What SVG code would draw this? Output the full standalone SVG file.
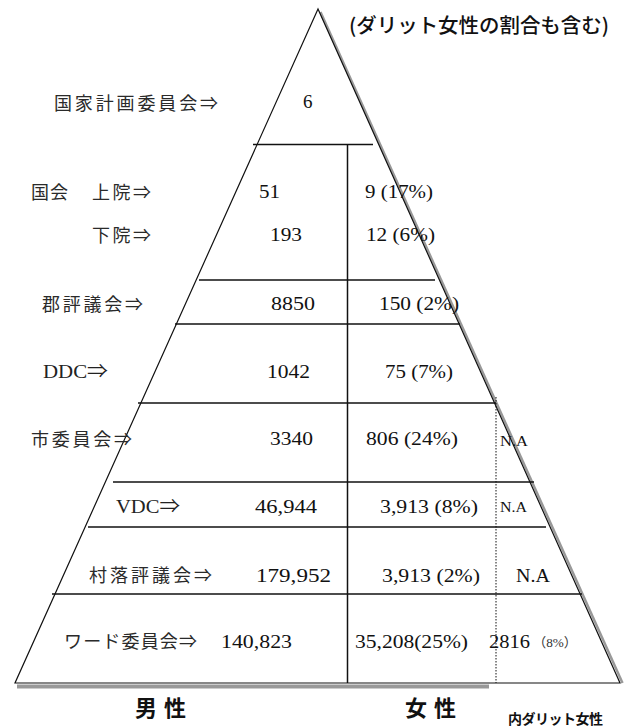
<svg xmlns="http://www.w3.org/2000/svg" width="624" height="728" viewBox="0 0 624 728">
<style>
.lbl{font-family:"Noto Sans CJK JP","Noto Sans CJK SC",sans-serif;font-size:18px;fill:#2a2a2a}
.lat{font-family:"Liberation Serif","Noto Sans CJK JP",serif;font-size:19px;fill:#222}
.num{font-family:"Liberation Serif",serif;font-size:19px;fill:#111}
.sm{font-family:"Liberation Serif",serif;font-size:14px;fill:#111}
.big{font-family:"Noto Sans CJK JP",sans-serif;font-size:22px;font-weight:bold;fill:#111}
.div{stroke:#111;stroke-width:1.5;fill:none}
</style>
<rect width="624" height="728" fill="#fff"/>
<g id="pyramid">
  <line x1="320.5" y1="12" x2="622.5" y2="683" stroke="#999" stroke-width="2.5"/>
  <rect x="17" y="684.5" width="472" height="4" fill="#999"/>
  <polygon points="318,9 15,683 620,683" fill="none" stroke="#111" stroke-width="1.2"/>
</g>
<g id="connectors">
  <line class="div" x1="253" y1="144.5" x2="373" y2="144.5"/>
  <line class="div" x1="199" y1="280" x2="435" y2="280" stroke-width="2"/>
  <line class="div" x1="175" y1="324" x2="460" y2="324"/>
  <line class="div" x1="138" y1="403" x2="496" y2="403"/>
  <line class="div" x1="113" y1="482" x2="534" y2="482" stroke-width="2"/>
  <line class="div" x1="88" y1="527" x2="546" y2="527"/>
  <line class="div" x1="52" y1="594" x2="582" y2="594"/>
  <line class="div" x1="347.5" y1="144.5" x2="347.5" y2="683"/>
  <line x1="496" y1="397" x2="496" y2="683" stroke="#111" stroke-width="1" stroke-dasharray="1.5 1.5"/>
</g>
<g id="title">
  <text x="349" y="33" font-family="Noto Sans CJK JP,sans-serif" font-size="20" font-weight="500" fill="#111" textLength="260" lengthAdjust="spacingAndGlyphs">(ダリット女性の割合も含む)</text>
</g>
<g id="row-npc">
  <text class="lbl" x="54" y="109.5" textLength="164" lengthAdjust="spacing">国家計画委員会⇒</text>
  <text class="num" x="303" y="108" font-size="17">6</text>
</g>
<g id="row-upper">
  <text class="lbl" x="31" y="198.5" textLength="37" lengthAdjust="spacing">国会</text>
  <text class="lbl" x="92" y="198.5" textLength="59" lengthAdjust="spacing">上院⇒</text>
  <text class="num" x="259" y="198" textLength="21" lengthAdjust="spacingAndGlyphs">51</text>
  <text class="num" x="365" y="198" textLength="68" lengthAdjust="spacingAndGlyphs">9 (17%)</text>
</g>
<g id="row-lower">
  <text class="lbl" x="92" y="241.5" textLength="59" lengthAdjust="spacing">下院⇒</text>
  <text class="num" x="270" y="241" textLength="32" lengthAdjust="spacingAndGlyphs">193</text>
  <text class="num" x="366" y="241" textLength="69" lengthAdjust="spacingAndGlyphs">12 (6%)</text>
</g>
<g id="row-district">
  <text class="lbl" x="42" y="310.5" textLength="101" lengthAdjust="spacing">郡評議会⇒</text>
  <text class="num" x="271" y="310" textLength="44" lengthAdjust="spacingAndGlyphs">8850</text>
  <text class="num" x="379" y="310" textLength="80" lengthAdjust="spacingAndGlyphs">150 (2%)</text>
</g>
<g id="row-ddc">
  <text class="lat" x="43" y="378" textLength="65" lengthAdjust="spacingAndGlyphs">DDC⇒</text>
  <text class="num" x="267" y="378" textLength="43" lengthAdjust="spacingAndGlyphs">1042</text>
  <text class="num" x="385" y="378" textLength="68" lengthAdjust="spacingAndGlyphs">75 (7%)</text>
</g>
<g id="row-municipal">
  <text class="lbl" x="31" y="446" textLength="101" lengthAdjust="spacing">市委員会⇒</text>
  <text class="num" x="270" y="445" textLength="43" lengthAdjust="spacingAndGlyphs">3340</text>
  <text class="num" x="366" y="445" textLength="92" lengthAdjust="spacingAndGlyphs">806 (24%)</text>
  <text class="sm" x="500" y="446" textLength="28" lengthAdjust="spacingAndGlyphs">N.A</text>
</g>
<g id="row-vdc">
  <text class="lat" x="116" y="513" textLength="64" lengthAdjust="spacingAndGlyphs">VDC⇒</text>
  <text class="num" x="255" y="513" textLength="62" lengthAdjust="spacingAndGlyphs">46,944</text>
  <text class="num" x="380" y="513" textLength="98" lengthAdjust="spacingAndGlyphs">3,913 (8%)</text>
  <text class="sm" x="500" y="512" textLength="27" lengthAdjust="spacingAndGlyphs">N.A</text>
</g>
<g id="row-village">
  <text class="lbl" x="89" y="581.5" textLength="123" lengthAdjust="spacing">村落評議会⇒</text>
  <text class="num" x="256" y="582" textLength="75" lengthAdjust="spacingAndGlyphs">179,952</text>
  <text class="num" x="382" y="582" textLength="98" lengthAdjust="spacingAndGlyphs">3,913 (2%)</text>
  <text class="num" x="516" y="582" textLength="34" lengthAdjust="spacingAndGlyphs">N.A</text>
</g>
<g id="row-ward">
  <text class="lbl" x="64" y="647.5" textLength="133" lengthAdjust="spacing">ワード委員会⇒</text>
  <text class="num" x="221" y="648" textLength="71" lengthAdjust="spacingAndGlyphs">140,823</text>
  <text class="num" x="355" y="648" textLength="113" lengthAdjust="spacingAndGlyphs">35,208(25%)</text>
  <text class="num" x="489" y="648" textLength="41" lengthAdjust="spacingAndGlyphs">2816</text>
  <text x="533" y="647" font-family="Liberation Serif,Noto Sans CJK JP,serif" font-size="13" fill="#333" textLength="44" lengthAdjust="spacingAndGlyphs">（8%）</text>
</g>
<g id="legend">
  <text class="big" x="135" y="716" textLength="51" lengthAdjust="spacing">男性</text>
  <text class="big" x="405" y="716" textLength="51" lengthAdjust="spacing">女性</text>
  <text x="508" y="724" font-family="Noto Sans CJK JP,sans-serif" font-size="14" font-weight="bold" fill="#111" textLength="95" lengthAdjust="spacing">内ダリット女性</text>
</g>
</svg>
